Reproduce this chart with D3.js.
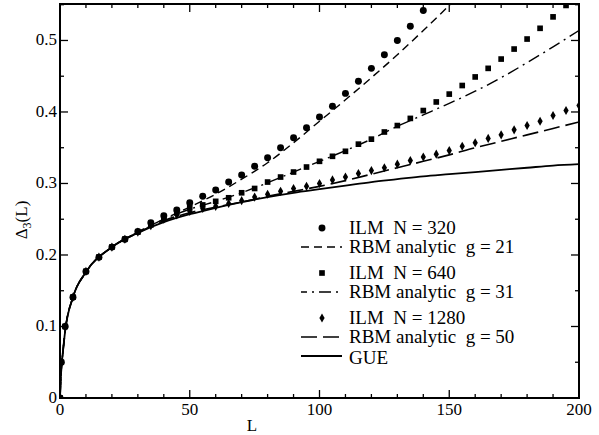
<!DOCTYPE html>
<html>
<head>
<meta charset="utf-8">
<script src="https://cdn.jsdelivr.net/npm/d3@7"></script>
<style>
  body { margin: 0; background: #fff; }
  svg { display: block; }
</style>
</head>
<body>
<div id="graph-container"></div>
<script>

/////////////////////////////////////////////////////////////////////////////
                    ///////    Data    ///////
/////////////////////////////////////////////////////////////////////////////

// L values at which the ILM points were sampled (value i belongs to ilmL[i])
const ilmL = [0, 0.5, 2, 5, 10, 15, 20, 25, 30, 35, 40, 45, 50, 55, 60, 65, 70, 75, 80, 85, 90,
              95, 100, 105, 110, 115, 120, 125, 130, 135, 140, 145, 150, 155, 160, 165, 170,
              175, 180, 185, 190, 195, 200];

const ilm320  = [0, 0.05, 0.10, 0.141, 0.177, 0.197, 0.211, 0.222, 0.233, 0.245, 0.255, 0.263,
                 0.273, 0.282, 0.291, 0.302, 0.312, 0.324, 0.336, 0.350, 0.364, 0.378, 0.393,
                 0.408, 0.426, 0.443, 0.461, 0.480, 0.500, 0.520, 0.542];
const ilm640  = [0, 0.05, 0.10, 0.141, 0.177, 0.197, 0.211, 0.222, 0.232, 0.242, 0.251, 0.259,
                 0.266, 0.270, 0.275, 0.280, 0.287, 0.293, 0.302, 0.309, 0.316, 0.323, 0.331,
                 0.338, 0.345, 0.355, 0.362, 0.372, 0.381, 0.391, 0.402, 0.414, 0.425, 0.437,
                 0.449, 0.461, 0.474, 0.488, 0.502, 0.517, 0.533, 0.549];
const ilm1280 = [0, 0.05, 0.10, 0.141, 0.177, 0.197, 0.211, 0.222, 0.232, 0.241, 0.250, 0.256,
                 0.261, 0.265, 0.268, 0.272, 0.276, 0.281, 0.285, 0.289, 0.293, 0.296, 0.300,
                 0.305, 0.309, 0.314, 0.318, 0.322, 0.327, 0.332, 0.337, 0.341, 0.346, 0.352,
                 0.357, 0.363, 0.368, 0.375, 0.381, 0.387, 0.395, 0.402, 0.409];

// L values for the curves
const curveL = [0, 0.5, 1, 2, 5, 10, 20, 30, 40, 50, 60, 70, 80, 90, 100, 110, 120, 130, 140,
                150, 160, 170, 180, 190, 200];

const rbm21 = [0, 0.04, 0.06, 0.094, 0.141, 0.176, 0.211, 0.232, 0.250, 0.267, 0.285, 0.306,
               0.329, 0.357, 0.387, 0.417, 0.448, 0.480, 0.514, 0.549, 0.585];
const rbm31 = [0, 0.04, 0.06, 0.094, 0.141, 0.176, 0.211, 0.232, 0.250, 0.264, 0.275, 0.287,
               0.301, 0.316, 0.331, 0.346, 0.362, 0.380, 0.396, 0.412, 0.429, 0.448, 0.469,
               0.491, 0.514];
const rbm50 = [0, 0.04, 0.06, 0.094, 0.141, 0.176, 0.211, 0.231, 0.248, 0.259, 0.267, 0.274,
               0.282, 0.289, 0.296, 0.304, 0.313, 0.322, 0.331, 0.340, 0.350, 0.359, 0.368,
               0.377, 0.386];
const gue   = [0, 0.04, 0.06, 0.094, 0.141, 0.176, 0.211, 0.231, 0.246, 0.257, 0.266, 0.274,
               0.281, 0.287, 0.292, 0.297, 0.302, 0.306, 0.310, 0.313, 0.316, 0.319, 0.322,
               0.325, 0.327];

const xTicks = [0, 50, 100, 150, 200];
const yTicks = [0, 0.1, 0.2, 0.3, 0.4, 0.5];
const yTickLabels = ["0", "0.1", "0.2", "0.3", "0.4", "0.5"];

const legendLabels = ["ILM  N = 320", "RBM analytic  g = 21", "ILM  N = 640",
                      "RBM analytic  g = 31", "ILM  N = 1280", "RBM analytic  g = 50", "GUE"];

/////////////////////////////////////////////////////////////////////////////
                    ///////    Layout    ///////
/////////////////////////////////////////////////////////////////////////////

const W = 599, H = 435;
const mLeft = 60, mRight = 579, mTop = 4, mBottom = 398;
const serif = "'Liberation Serif', 'Times New Roman', Times, serif";

const x = d3.scaleLinear().domain([0, 200]).range([mLeft, mRight]);
const y = d3.scaleLinear().domain([0, 0.551]).range([mBottom, mTop]);

const svg = d3.select("#graph-container").append("svg")
    .attr("width", W).attr("height", H)
    .attr("font-family", serif)
    .style("font-family", serif);

svg.append("defs").append("clipPath").attr("id", "plot-clip")
    .append("rect").attr("x", mLeft).attr("y", mTop)
    .attr("width", mRight - mLeft).attr("height", mBottom - mTop);

const plot = svg.append("g").attr("clip-path", "url(#plot-clip)");

/////////////////////////////////////////////////////////////////////////////
                    ///////    Curves    ///////
/////////////////////////////////////////////////////////////////////////////

const line = d3.line().x(d => x(d[0])).y(d => y(d[1])).curve(d3.curveMonotoneX);
const pairs = (xs, ys) => ys.map((v, i) => [xs[i], v]);

const curves = [
    { vals: rbm21, dash: "8,5",        width: 1.4 },
    { vals: rbm31, dash: "12,5,2,5",   width: 1.4 },
    { vals: rbm50, dash: "16,6",       width: 1.6 },
    { vals: gue,   dash: null,         width: 1.8 }
];

curves.forEach(c => {
    plot.append("path")
        .attr("d", line(pairs(curveL, c.vals)))
        .attr("fill", "none")
        .attr("stroke", "#000")
        .attr("stroke-width", c.width)
        .attr("stroke-dasharray", c.dash);
});

/////////////////////////////////////////////////////////////////////////////
                    ///////    Points    ///////
/////////////////////////////////////////////////////////////////////////////

const circleSym  = d3.symbol().type(d3.symbolCircle).size(38);
const squareSym  = d3.symbol().type(d3.symbolSquare).size(32);
const diamondSym = d3.symbol().type(d3.symbolDiamond).size(24);

const pointSets = [
    { vals: ilm320,  sym: circleSym },
    { vals: ilm640,  sym: squareSym },
    { vals: ilm1280, sym: diamondSym }
];

pointSets.forEach(s => {
    plot.append("g").selectAll("path")
        .data(pairs(ilmL, s.vals))
        .join("path")
        .attr("d", s.sym)
        .attr("transform", d => `translate(${x(d[0])},${y(d[1])})`)
        .attr("fill", "#000");
});

/////////////////////////////////////////////////////////////////////////////
                    ///////    Axes    ///////
/////////////////////////////////////////////////////////////////////////////

const xMinor = d3.range(0, 201, 10);
const yMinor = d3.range(0, 0.551, 0.05);

const axes = svg.append("g").attr("stroke", "#000");

axes.append("rect")
    .attr("x", mLeft).attr("y", mTop)
    .attr("width", mRight - mLeft).attr("height", mBottom - mTop)
    .attr("fill", "none").attr("stroke-width", 2);

// ticks point inward on all four sides
xMinor.forEach(v => {
    const len = v % 50 === 0 ? 8 : 4;
    axes.append("line").attr("x1", x(v)).attr("x2", x(v)).attr("y1", mBottom).attr("y2", mBottom - len).attr("stroke-width", 1.3);
    axes.append("line").attr("x1", x(v)).attr("x2", x(v)).attr("y1", mTop).attr("y2", mTop + len).attr("stroke-width", 1.3);
});
yMinor.forEach((v, i) => {
    const len = i % 2 === 0 ? 8 : 4;
    axes.append("line").attr("y1", y(v)).attr("y2", y(v)).attr("x1", mLeft).attr("x2", mLeft + len).attr("stroke-width", 1.3);
    axes.append("line").attr("y1", y(v)).attr("y2", y(v)).attr("x1", mRight).attr("x2", mRight - len).attr("stroke-width", 1.3);
});

svg.append("g").selectAll("text")
    .data(xTicks)
    .join("text")
    .attr("x", d => x(d))
    .attr("y", mBottom + 17)
    .attr("text-anchor", "middle")
    .style("font-size", "17px")
    .text(d => d);

svg.append("g").selectAll("text")
    .data(yTicks)
    .join("text")
    .attr("x", mLeft - 3)
    .attr("y", d => y(d) + 5)
    .attr("text-anchor", "end")
    .style("font-size", "17px")
    .text((d, i) => yTickLabels[i]);

svg.append("text")
    .attr("x", x(74)).attr("y", 431)
    .attr("text-anchor", "middle")
    .style("font-size", "17px")
    .text("L");

const yLab = svg.append("text")
    .attr("transform", `translate(27,220) rotate(-90)`)
    .attr("text-anchor", "middle")
    .style("font-size", "17px");
yLab.append("tspan").text("Δ");
yLab.append("tspan").attr("dy", 4).style("font-size", "12px").text("3");
yLab.append("tspan").attr("dy", -4).text("(L)");

/////////////////////////////////////////////////////////////////////////////
                    ///////    Legend    ///////
/////////////////////////////////////////////////////////////////////////////

const legendRows = [228, 247, 273, 292, 318, 337, 356];
const legendKinds = [
    { sym: circleSym },
    { dash: "8,5", width: 1.4 },
    { sym: squareSym },
    { dash: "12,5,2,5", width: 1.4, offset: 6 },
    { sym: diamondSym },
    { dash: "16,6", width: 1.6 },
    { dash: null, width: 1.8 }
];

const legend = svg.append("g");
legendKinds.forEach((k, i) => {
    const cy = legendRows[i];
    if (k.sym) {
        legend.append("path").attr("d", k.sym)
            .attr("transform", `translate(322,${cy})`).attr("fill", "#000");
    } else {
        legend.append("line")
            .attr("x1", 301).attr("x2", 342).attr("y1", cy).attr("y2", cy)
            .attr("stroke", "#000").attr("stroke-width", k.width)
            .attr("stroke-dasharray", k.dash)
            .attr("stroke-dashoffset", k.offset || 0);
    }
    legend.append("text")
        .attr("x", 349).attr("y", cy + (i === 6 ? 8 : 6))
        .style("font-size", "19px")
        .style("white-space", "pre")
        .attr("xml:space", "preserve")
        .text(legendLabels[i]);
});

</script>
</body>
</html>
